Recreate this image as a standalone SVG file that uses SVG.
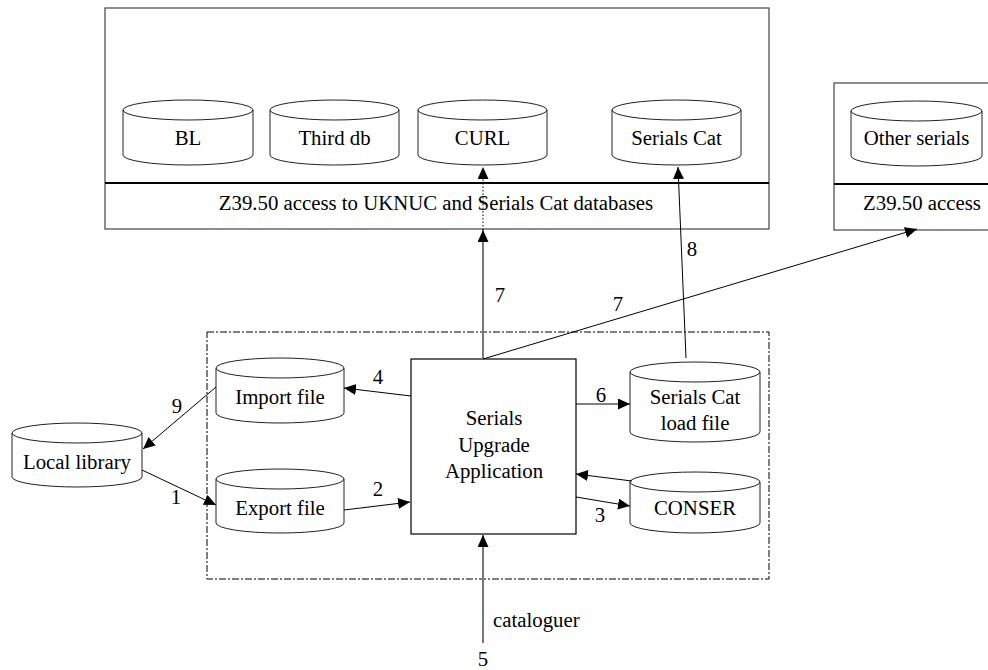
<svg xmlns="http://www.w3.org/2000/svg" width="988" height="670" viewBox="0 0 988 670">
<style>
text{font-family:"Liberation Serif","Times New Roman","DejaVu Serif",serif;font-size:20.8px;fill:#000}
.c{text-anchor:middle}
.box{fill:none;stroke:#444;stroke-width:1.2}
.div{stroke:#000;stroke-width:2}
.cyl{fill:#fff;stroke:#222;stroke-width:1}
.ln{fill:none;stroke:#000;stroke-width:1;marker-end:url(#ah)}
.gl{fill:none;stroke:#777;stroke-width:2;marker-end:url(#ah)}
</style>
<defs>
<marker id="ah" markerUnits="userSpaceOnUse" markerWidth="13" markerHeight="12" refX="12" refY="5.5" orient="auto">
<path d="M0,0 L12,5.5 L0,11 z" fill="#000"/>
</marker>
</defs>
<rect x="0" y="0" width="988" height="670" fill="#fff"/>

<g id="z3950-uknuc">
<rect class="box" x="105" y="8" width="664" height="221"/>
<line class="div" x1="105" y1="183" x2="769" y2="183"/>
<text class="c" x="436" y="210">Z39.50 access to UKNUC and Serials Cat databases</text>
</g>
<g id="z3950-other">
<rect class="box" x="834" y="83" width="170" height="147"/>
<line class="div" x1="834" y1="184" x2="988" y2="184"/>
<text class="c" x="922" y="210">Z39.50 access</text>
</g>
<g id="boundary">
<rect x="207" y="332" width="562" height="247" fill="none" stroke="#000" stroke-width="1" stroke-dasharray="7 2 2 2"/>
</g>

<g id="bl">
<path class="cyl" d="M123,110 A65,10 0 0,1 253,110 A65,10 0 0,1 123,110 L123,155 A65,10 0 0,0 253,155 L253,110"/>
<text class="c" x="188" y="145">BL</text>
</g>
<g id="third-db">
<path class="cyl" d="M270,110 A64.5,10 0 0,1 399,110 A64.5,10 0 0,1 270,110 L270,155 A64.5,10 0 0,0 399,155 L399,110"/>
<text class="c" x="334.5" y="145">Third db</text>
</g>
<g id="curl">
<path class="cyl" d="M418,110 A64.5,10 0 0,1 547,110 A64.5,10 0 0,1 418,110 L418,155 A64.5,10 0 0,0 547,155 L547,110"/>
<text class="c" x="482.5" y="145">CURL</text>
</g>
<g id="serials-cat">
<path class="cyl" d="M612,110 A64.5,10 0 0,1 741,110 A64.5,10 0 0,1 612,110 L612,155 A64.5,10 0 0,0 741,155 L741,110"/>
<text class="c" x="676.5" y="145">Serials Cat</text>
</g>
<g id="other-serials">
<path class="cyl" d="M851,111 A65.5,10 0 0,1 982,111 A65.5,10 0 0,1 851,111 L851,156 A65.5,10 0 0,0 982,156 L982,111"/>
<text class="c" x="916.5" y="145">Other serials</text>
</g>
<g id="local-library">
<path class="cyl" d="M12,433 A65,10 0 0,1 142,433 A65,10 0 0,1 12,433 L12,477 A65,10 0 0,0 142,477 L142,433"/>
<text class="c" x="77" y="469">Local library</text>
</g>
<g id="import-file">
<path class="cyl" d="M216,368 A64,10 0 0,1 344,368 A64,10 0 0,1 216,368 L216,413 A64,10 0 0,0 344,413 L344,368"/>
<text class="c" x="280" y="404">Import file</text>
</g>
<g id="export-file">
<path class="cyl" d="M216,479 A64,10 0 0,1 344,479 A64,10 0 0,1 216,479 L216,523 A64,10 0 0,0 344,523 L344,479"/>
<text class="c" x="280" y="515">Export file</text>
</g>
<g id="serials-cat-load">
<path class="cyl" d="M630,372 A65,10 0 0,1 760,372 A65,10 0 0,1 630,372 L630,432 A65,10 0 0,0 760,432 L760,372"/>
<text class="c" x="695" y="404">Serials Cat</text>
<text class="c" x="695" y="430">load file</text>
</g>
<g id="conser">
<path class="cyl" d="M630,482 A65,10 0 0,1 760,482 A65,10 0 0,1 630,482 L630,523 A65,10 0 0,0 760,523 L760,482"/>
<text class="c" x="695" y="515">CONSER</text>
</g>
<g id="app">
<rect x="411" y="359" width="165" height="175" fill="#fff" stroke="#000" stroke-width="1.2"/>
<text class="c" x="494" y="425">Serials</text>
<text class="c" x="494" y="452">Upgrade</text>
<text class="c" x="494" y="478">Application</text>
</g>

<g id="connectors">
<line class="gl" x1="483" y1="359" x2="483" y2="230"/>
<line class="ln" x1="483" y1="230" x2="483" y2="167" stroke-dasharray="1.5 2"/>
<line class="ln" x1="483" y1="359" x2="917" y2="229"/>
<line class="ln" x1="686" y1="358" x2="678" y2="167" stroke="#555"/>
<line class="ln" x1="576" y1="404" x2="630" y2="404"/>
<line class="ln" x1="632" y1="481" x2="576" y2="474"/>
<line class="ln" x1="576" y1="497" x2="630" y2="506"/>
<line class="ln" x1="411" y1="396" x2="344" y2="388"/>
<line class="ln" x1="216" y1="387" x2="143" y2="449"/>
<line class="ln" x1="142" y1="470" x2="216" y2="505"/>
<line class="ln" x1="344" y1="510" x2="410" y2="502"/>
<line class="gl" x1="483" y1="643" x2="483" y2="535"/>
<text class="c" x="500" y="302">7</text>
<text class="c" x="618" y="311">7</text>
<text class="c" x="692" y="256">8</text>
<text class="c" x="601" y="402">6</text>
<text class="c" x="600" y="522">3</text>
<text class="c" x="378" y="384">4</text>
<text class="c" x="177" y="413">9</text>
<text class="c" x="176" y="504">1</text>
<text class="c" x="378" y="496">2</text>
<text x="493" y="627">cataloguer</text>
<text class="c" x="483" y="666">5</text>
</g>
</svg>
